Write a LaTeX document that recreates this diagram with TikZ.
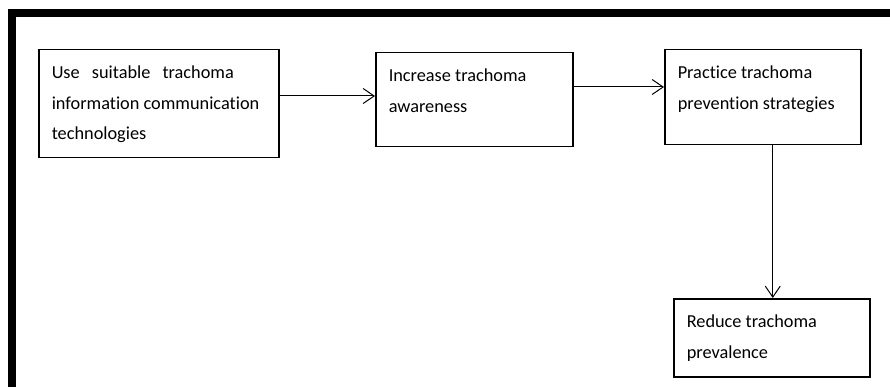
\documentclass[tikz,border=0pt]{standalone}
\usepackage{fontspec}
\setmainfont[Ligatures={NoCommon}]{Carlito}
\usetikzlibrary{arrows.meta}
\newcommand{\boxtext}[3]{\parbox[t][#2][t]{#1}{\leftskip=13pt\rule{0pt}{29pt}#3}}
\tikzset{
  stepbox/.style={draw=black, line width=1.5pt, inner sep=0pt, anchor=north west,
    font=\fontsize{18.3pt}{30.5pt}\selectfont},
  arr/.style={draw=black, line width=1pt, -{Straight Barb[length=11pt,width=15pt]}},
}
\begin{document}
\begin{tikzpicture}[x=1pt,y=-1pt]
\useasboundingbox (0,0) rectangle (890,387);
\fill[black] (8,9) rectangle (890,17);
\fill[black] (8,9) rectangle (16,387);
\node[stepbox] (b1) at (38,49) {\boxtext{240pt}{108pt}{Use\hspace{8pt} suitable\hspace{8pt} trachoma\\information communication\\technologies}};
\node[stepbox] (b2) at (375,52) {\boxtext{197pt}{94pt}{Increase trachoma\\awareness}};
\node[stepbox] (b3) at (664,49) {\boxtext{196pt}{95pt}{Practice trachoma\\prevention strategies}};
\node[stepbox] (b4) at (673,298) {\boxtext{196pt}{78pt}{Reduce trachoma\\prevalence}};
\path (b1.north east) ++(0,47) coordinate (a1s);
\path (b2.north east) ++(0,35) coordinate (a2s);
\path (b3.south) ++(10,0) coordinate (a3s);
\draw[arr] (a1s) -- (a1s -| b2.west);
\draw[arr] (a2s) -- (a2s -| b3.west);
\draw[arr] (a3s) -- (a3s |- b4.north);
\end{tikzpicture}
\end{document}
